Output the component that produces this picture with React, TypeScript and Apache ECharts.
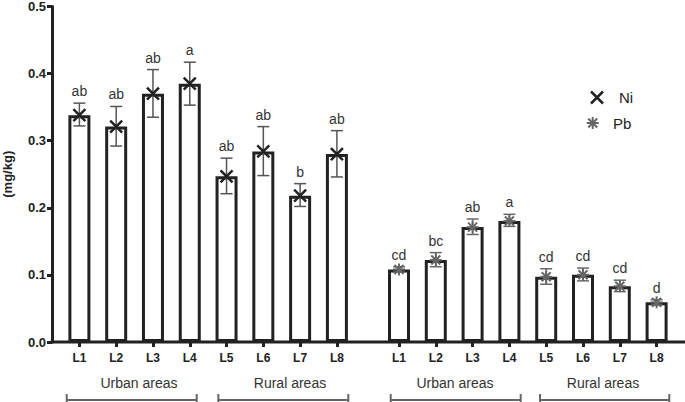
import React, { useEffect, useRef } from "react";
import * as echarts from "echarts";

const categories = ["L1", "L2", "L3", "L4", "L5", "L6", "L7", "L8"];
const yTicks = [0, 0.1, 0.2, 0.3, 0.4, 0.5];

const niMean = [0.338, 0.321, 0.37, 0.385, 0.247, 0.284, 0.218, 0.28];
const niLow = [0.322, 0.292, 0.335, 0.353, 0.221, 0.248, 0.202, 0.246];
const niHigh = [0.356, 0.351, 0.406, 0.417, 0.274, 0.321, 0.236, 0.315];
const niLetters = ["ab", "ab", "ab", "a", "ab", "ab", "b", "ab"];

const pbMean = [0.108, 0.122, 0.171, 0.18, 0.097, 0.1, 0.083, 0.059];
const pbLow = [0.104, 0.112, 0.16, 0.172, 0.086, 0.091, 0.075, 0.055];
const pbHigh = [0.112, 0.133, 0.183, 0.19, 0.109, 0.11, 0.092, 0.063];
const pbLetters = ["cd", "bc", "ab", "a", "cd", "cd", "cd", "d"];

const groupNames = ["Urban areas", "Rural areas"];
const seriesNames = ["Ni", "Pb"];

const FONT = "'Liberation Sans', Arial, Helvetica, sans-serif";
const DARK = "#222";
const GREY = "#666";

function markerX(cx: number, cy: number, r: number, color: string, w: number) {
  return [
    { type: "line", shape: { x1: cx - r, y1: cy - r, x2: cx + r, y2: cy + r }, style: { stroke: color, lineWidth: w } },
    { type: "line", shape: { x1: cx - r, y1: cy + r, x2: cx + r, y2: cy - r }, style: { stroke: color, lineWidth: w } },
  ];
}

function markerStar(cx: number, cy: number, r: number, color: string, w: number) {
  const d = r * 0.75;
  return [
    { type: "line", shape: { x1: cx, y1: cy - r, x2: cx, y2: cy + r }, style: { stroke: color, lineWidth: w } },
    { type: "line", shape: { x1: cx - r, y1: cy, x2: cx + r, y2: cy }, style: { stroke: color, lineWidth: w } },
    { type: "line", shape: { x1: cx - d, y1: cy - d, x2: cx + d, y2: cy + d }, style: { stroke: color, lineWidth: w } },
    { type: "line", shape: { x1: cx - d, y1: cy + d, x2: cx + d, y2: cy - d }, style: { stroke: color, lineWidth: w } },
  ];
}

function makeErrorSeries(
  name: string,
  idx: number,
  mean: number[],
  low: number[],
  high: number[],
  letters: string[],
  kind: "x" | "star"
) {
  return {
    type: "custom",
    name,
    xAxisIndex: idx,
    yAxisIndex: idx,
    z: 5,
    data: mean.map((m, i) => [i, m, low[i], high[i]]),
    renderItem: (params: any, api: any) => {
      const i = api.value(0);
      const pm = api.coord([i, api.value(1)]);
      const pl = api.coord([i, api.value(2)]);
      const ph = api.coord([i, api.value(3)]);
      const cx = pm[0];
      const capW = 6;
      const ebColor = kind === "x" ? "#555" : GREY;
      const children: any[] = [
        { type: "line", shape: { x1: cx, y1: pl[1], x2: cx, y2: ph[1] }, style: { stroke: ebColor, lineWidth: 1.5 } },
        { type: "line", shape: { x1: cx - capW, y1: pl[1], x2: cx + capW, y2: pl[1] }, style: { stroke: ebColor, lineWidth: 1.5 } },
        { type: "line", shape: { x1: cx - capW, y1: ph[1], x2: cx + capW, y2: ph[1] }, style: { stroke: ebColor, lineWidth: 1.5 } },
      ];
      if (kind === "x") children.push(...markerX(cx, pm[1], 6, DARK, 2.5));
      else children.push(...markerStar(cx, pm[1], 6, GREY, 2));
      children.push({
        type: "text",
        style: {
          x: cx,
          y: ph[1] - 5,
          text: letters[params.dataIndex],
          align: "center",
          verticalAlign: "bottom",
          fill: "#333",
          font: `14px ${FONT}`,
        },
      });
      return { type: "group", children };
    },
  };
}

function bracket(x1: number, x2: number, tx: number, label: string) {
  return [
    { type: "line", shape: { x1, y1: 400, x2, y2: 400 }, style: { stroke: GREY, lineWidth: 2 } },
    { type: "line", shape: { x1, y1: 394, x2: x1, y2: 402 }, style: { stroke: GREY, lineWidth: 2 } },
    { type: "line", shape: { x1: x2, y1: 394, x2: x2, y2: 402 }, style: { stroke: GREY, lineWidth: 2 } },
    {
      type: "text",
      style: { x: tx, y: 383, text: label, align: "center", verticalAlign: "middle", fill: "#333", font: `14px ${FONT}` },
    },
  ];
}

export default function App() {
  const ref = useRef<HTMLDivElement>(null);
  useEffect(() => {
    if (!ref.current) return;
    const chart = echarts.init(ref.current, null, { renderer: "svg" });
    const gridTop = 6;
    const gridH = 336;
    const catW = 36.8;
    const xAxisCommon = {
      type: "category",
      data: categories,
      axisLine: { show: false },
      axisTick: { show: true, alignWithLabel: true, length: 5, lineStyle: { color: DARK, width: 3 } },
      axisLabel: { color: DARK, fontWeight: "bold", fontSize: 12, fontFamily: FONT, margin: 10 },
      splitLine: { show: false },
    };
    const option: any = {
      animation: false,
      backgroundColor: "#fff",
      grid: [
        { left: 60.9, top: gridTop, width: catW * 8, height: gridH },
        { left: 380.6, top: gridTop, width: catW * 8, height: gridH },
      ],
      xAxis: [
        { ...xAxisCommon, gridIndex: 0 },
        { ...xAxisCommon, gridIndex: 1 },
      ],
      yAxis: [
        {
          type: "value",
          gridIndex: 0,
          min: yTicks[0],
          max: yTicks[yTicks.length - 1],
          interval: 0.1,
          offset: 9,
          name: "(mg/kg)",
          nameLocation: "middle",
          nameRotate: 90,
          nameGap: 38,
          nameTextStyle: { color: DARK, fontWeight: "bold", fontSize: 13, fontFamily: FONT },
          axisLine: { show: true, lineStyle: { color: DARK, width: 3 } },
          axisTick: { show: true, length: 5, lineStyle: { color: DARK, width: 3 } },
          axisLabel: {
            color: DARK,
            fontWeight: "bold",
            fontSize: 13,
            fontFamily: FONT,
            margin: 6,
            formatter: (v: number) => v.toFixed(1),
          },
          splitLine: { show: false },
        },
        {
          type: "value",
          gridIndex: 1,
          min: yTicks[0],
          max: yTicks[yTicks.length - 1],
          interval: 0.1,
          show: false,
        },
      ],
      series: [
        {
          type: "bar",
          xAxisIndex: 0,
          yAxisIndex: 0,
          data: niMean,
          barWidth: 22,
          itemStyle: { color: "#fff", borderColor: DARK, borderWidth: 3 },
          z: 2,
        },
        {
          type: "bar",
          xAxisIndex: 1,
          yAxisIndex: 1,
          data: pbMean,
          barWidth: 22,
          itemStyle: { color: "#fff", borderColor: DARK, borderWidth: 3 },
          z: 2,
        },
        makeErrorSeries(seriesNames[0], 0, niMean, niLow, niHigh, niLetters, "x"),
        makeErrorSeries(seriesNames[1], 1, pbMean, pbLow, pbHigh, pbLetters, "star"),
      ],
      graphic: [
        { type: "line", z: 10, shape: { x1: 50.5, y1: 342, x2: 685, y2: 342 }, style: { stroke: DARK, lineWidth: 3 } },
        ...markerX(597, 97.5, 6, DARK, 2.5),
        { type: "text", style: { x: 619, y: 97.5, text: seriesNames[0], verticalAlign: "middle", fill: DARK, font: `15px ${FONT}` } },
        ...markerStar(592.7, 123, 6, GREY, 2),
        { type: "text", style: { x: 613, y: 123, text: seriesNames[1], verticalAlign: "middle", fill: DARK, font: `15px ${FONT}` } },
        ...bracket(66.7, 196.7, 139, groupNames[0]),
        ...bracket(218.3, 348.3, 290, groupNames[1]),
        ...bracket(390.7, 520.7, 455, groupNames[0]),
        ...bracket(540, 669.3, 603, groupNames[1]),
      ],
    };
    chart.setOption(option);
    return () => chart.dispose();
  }, []);
  return (
    <div
      ref={ref}
      style={{ position: "fixed", left: 0, top: 0, width: 685, height: 402, background: "#fff" }}
    />
  );
}
